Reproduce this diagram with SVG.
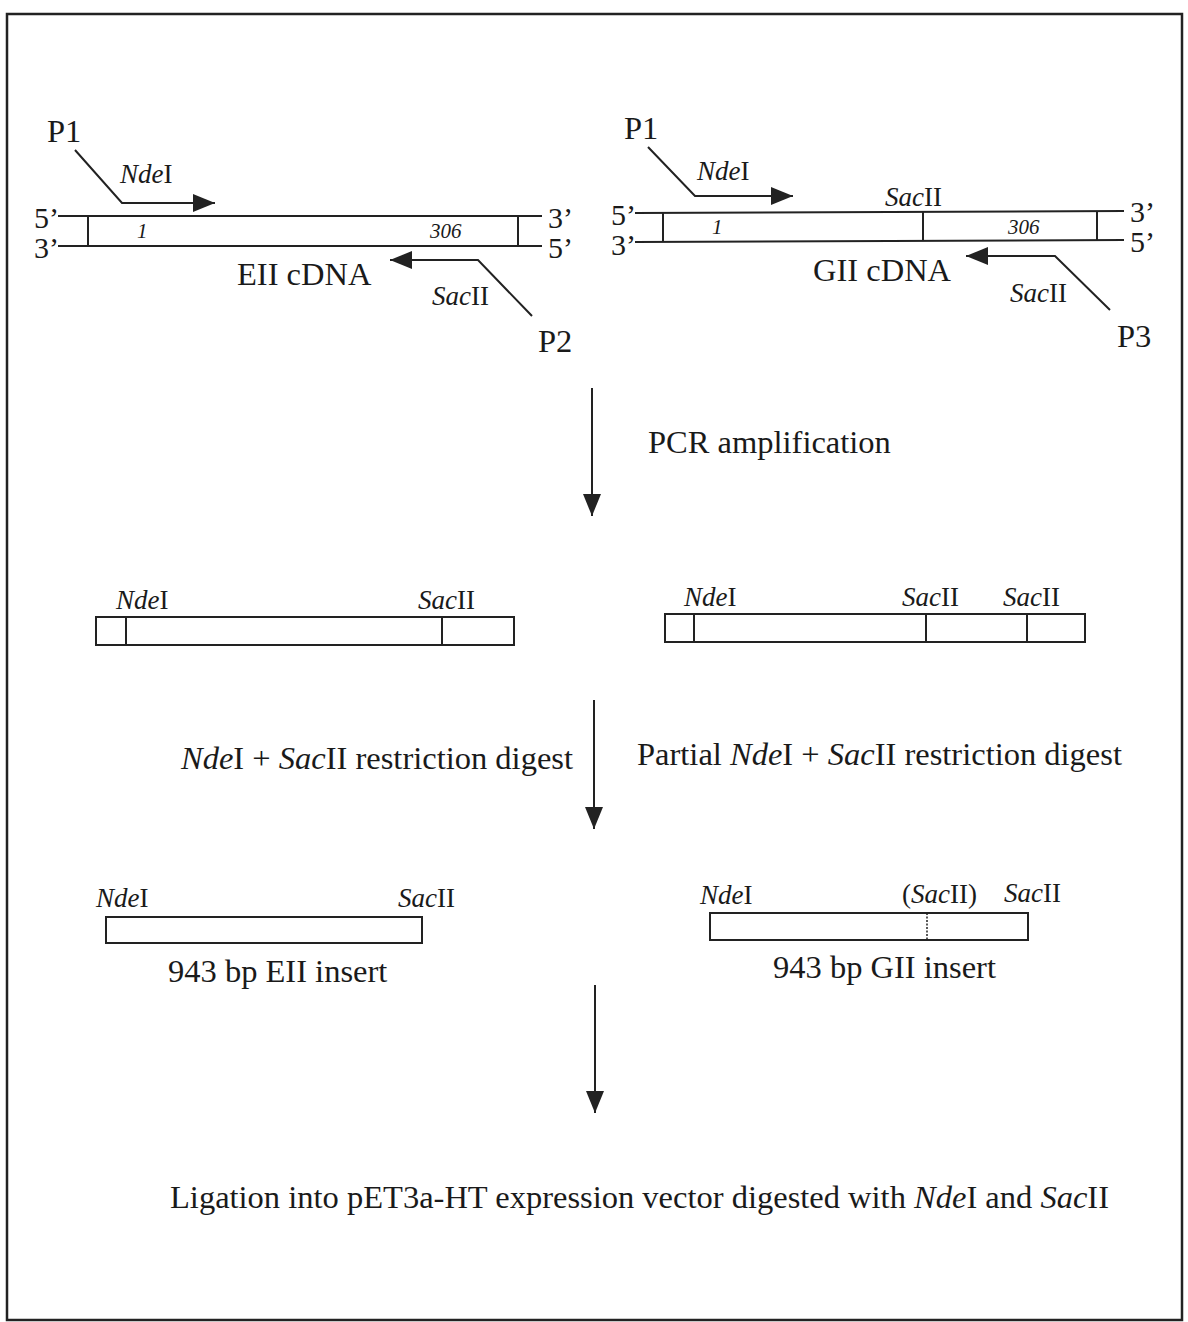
<svg xmlns="http://www.w3.org/2000/svg" width="1188" height="1322" viewBox="0 0 1188 1322">
<defs>
<marker id="ah" viewBox="0 0 22 18" refX="22" refY="9" markerWidth="22" markerHeight="18" markerUnits="userSpaceOnUse" orient="auto">
<path d="M0,0 L22,9 L0,18 Z" fill="#222"/>
</marker>
<marker id="ahs" viewBox="0 0 22 18" refX="22" refY="9" markerWidth="22" markerHeight="18" markerUnits="userSpaceOnUse" orient="auto">
<path d="M0,0 L22,9 L0,18 Z" fill="#222"/>
</marker>
</defs>
<style>
.t{font-family:"Liberation Serif","Times New Roman",serif;fill:#1a1a1a;}
.big{font-size:32.5px;}
.mid{font-size:30px;}
.sm{font-size:27px;}
.xs{font-size:21px;font-style:italic;}
.i{font-style:italic;}
.ln{stroke:#222;stroke-width:2;fill:none;}
.box{stroke:#222;stroke-width:2;fill:#fff;}
</style>
<rect x="7" y="14" width="1175" height="1306" fill="#fff" stroke="#222" stroke-width="2.5"/>

<g id="eii-cdna">
<line class="ln" x1="58" y1="216" x2="542" y2="216"/>
<line class="ln" x1="58" y1="246" x2="542" y2="246"/>
<line class="ln" x1="88" y1="216" x2="88" y2="246"/>
<line class="ln" x1="518" y1="216" x2="518" y2="246"/>
<text class="t mid" x="34" y="228">5’</text>
<text class="t mid" x="34" y="258">3’</text>
<text class="t mid" x="548" y="228">3’</text>
<text class="t mid" x="548" y="258">5’</text>
<text class="t xs" x="137" y="238">1</text>
<text class="t xs" x="430" y="238">306</text>
<text class="t big" x="237" y="285">EII cDNA</text>
</g>
<g id="p1-left">
<text class="t big" x="47" y="142">P1</text>
<polyline class="ln" points="75,150 122,203 215,203" marker-end="url(#ah)"/>
<text class="t sm" x="120" y="183"><tspan class="i">Nde</tspan>I</text>
</g>
<g id="p2">
<polyline class="ln" points="532,316 478,260 390,260" marker-end="url(#ah)"/>
<text class="t sm" x="432" y="305"><tspan class="i">Sac</tspan>II</text>
<text class="t big" x="538" y="352">P2</text>
</g>

<g id="gii-cdna">
<line class="ln" x1="635" y1="213" x2="1124" y2="211"/>
<line class="ln" x1="635" y1="242" x2="1124" y2="240"/>
<line class="ln" x1="663" y1="213" x2="663" y2="242"/>
<line class="ln" x1="923" y1="212" x2="923" y2="241"/>
<line class="ln" x1="1097" y1="211" x2="1097" y2="240"/>
<text class="t mid" x="611" y="225">5’</text>
<text class="t mid" x="611" y="255">3’</text>
<text class="t mid" x="1130" y="222">3’</text>
<text class="t mid" x="1130" y="252">5’</text>
<text class="t xs" x="712" y="234">1</text>
<text class="t xs" x="1008" y="234">306</text>
<text class="t sm" x="885" y="206"><tspan class="i">Sac</tspan>II</text>
<text class="t big" x="813" y="281">GII cDNA</text>
</g>
<g id="p1-right">
<text class="t big" x="624" y="139">P1</text>
<polyline class="ln" points="648,147 695,196 793,196" marker-end="url(#ah)"/>
<text class="t sm" x="697" y="180"><tspan class="i">Nde</tspan>I</text>
</g>
<g id="p3">
<polyline class="ln" points="1110,310 1055,256 966,256" marker-end="url(#ah)"/>
<text class="t sm" x="1010" y="302"><tspan class="i">Sac</tspan>II</text>
<text class="t big" x="1117" y="347">P3</text>
</g>

<g id="connectors">
<line class="ln" x1="592" y1="388" x2="592" y2="516" marker-end="url(#ahs)"/>
<line class="ln" x1="594" y1="700" x2="594" y2="829" marker-end="url(#ahs)"/>
<line class="ln" x1="595" y1="985" x2="595" y2="1113" marker-end="url(#ahs)"/>
</g>
<g id="pcr-label">
<text class="t big" x="648" y="453">PCR amplification</text>
</g>

<g id="eii-pcr-product">
<rect class="box" x="96" y="617" width="418" height="28"/>
<line class="ln" x1="126" y1="617" x2="126" y2="645"/>
<line class="ln" x1="442" y1="617" x2="442" y2="645"/>
<text class="t sm" x="116" y="609"><tspan class="i">Nde</tspan>I</text>
<text class="t sm" x="418" y="609"><tspan class="i">Sac</tspan>II</text>
</g>
<g id="gii-pcr-product">
<rect class="box" x="665" y="614" width="420" height="28"/>
<line class="ln" x1="694" y1="614" x2="694" y2="642"/>
<line class="ln" x1="926" y1="614" x2="926" y2="642"/>
<line class="ln" x1="1027" y1="614" x2="1027" y2="642"/>
<text class="t sm" x="684" y="606"><tspan class="i">Nde</tspan>I</text>
<text class="t sm" x="902" y="606"><tspan class="i">Sac</tspan>II</text>
<text class="t sm" x="1003" y="606"><tspan class="i">Sac</tspan>II</text>
</g>

<g id="digest-labels">
<text class="t big" x="181" y="769"><tspan class="i">Nde</tspan>I + <tspan class="i">Sac</tspan>II restriction digest</text>
<text class="t big" x="637" y="765">Partial <tspan class="i">Nde</tspan>I + <tspan class="i">Sac</tspan>II restriction digest</text>
</g>

<g id="eii-insert">
<rect class="box" x="106" y="917" width="316" height="26"/>
<text class="t sm" x="96" y="907"><tspan class="i">Nde</tspan>I</text>
<text class="t sm" x="398" y="907"><tspan class="i">Sac</tspan>II</text>
<text class="t big" x="168" y="982">943 bp EII insert</text>
</g>
<g id="gii-insert">
<rect class="box" x="710" y="913" width="318" height="27"/>
<line x1="927" y1="913" x2="927" y2="940" stroke="#222" stroke-width="1.5" stroke-dasharray="2,1.5"/>
<text class="t sm" x="700" y="904"><tspan class="i">Nde</tspan>I</text>
<text class="t sm" x="902" y="903">(<tspan class="i">Sac</tspan>II)</text>
<text class="t sm" x="1004" y="902"><tspan class="i">Sac</tspan>II</text>
<text class="t big" x="773" y="978">943 bp GII insert</text>
</g>

<g id="ligation">
<text class="t big" x="170" y="1208">Ligation into pET3a-HT expression vector digested with <tspan class="i">Nde</tspan>I and <tspan class="i">Sac</tspan>II</text>
</g>
</svg>
